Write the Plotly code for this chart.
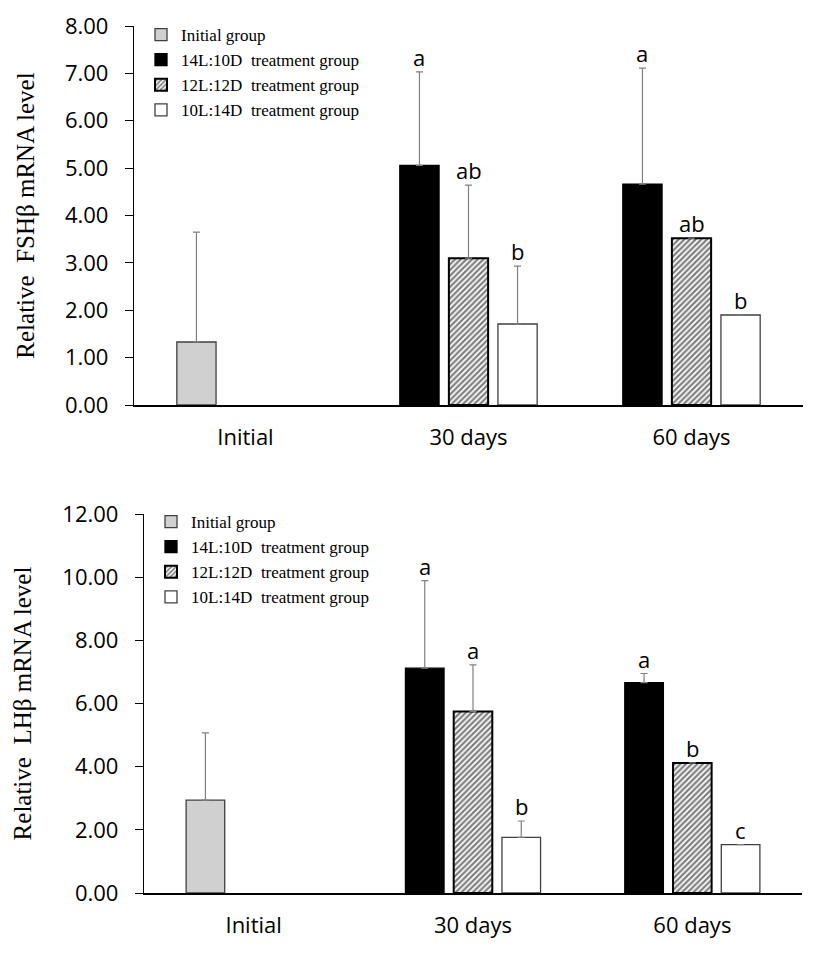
import plotly.graph_objects as go

# ---------------- data ----------------
categories = ["Initial", "30 days", "60 days"]
series_names = ["Initial group", "14L:10D\u00a0 treatment group",
                "12L:12D\u00a0 treatment group", "10L:14D\u00a0 treatment group"]

# FSHβ (top panel)
fsh_initial = [1.33, None, None]
fsh_14L = [None, 5.06, 4.66]
fsh_12L = [None, 3.10, 3.52]
fsh_10L = [None, 1.71, 1.90]
fsh_initial_err = [2.32, None, None]
fsh_14L_err = [None, 1.97, 2.45]
fsh_12L_err = [None, 1.54, None]
fsh_10L_err = [None, 1.22, None]
fsh_14L_letters = [None, "a", "a"]
fsh_12L_letters = [None, "ab", "ab"]
fsh_10L_letters = [None, "b", "b"]

# LHβ (bottom panel)
lh_initial = [2.94, None, None]
lh_14L = [None, 7.12, 6.66]
lh_12L = [None, 5.75, 4.12]
lh_10L = [None, 1.76, 1.53]
lh_initial_err = [2.13, None, None]
lh_14L_err = [None, 2.77, 0.29]
lh_12L_err = [None, 1.47, None]
lh_10L_err = [None, 0.52, None]
lh_14L_letters = [None, "a", "a"]
lh_12L_letters = [None, "a", "b"]
lh_10L_letters = [None, "b", "c"]

fsh_ticks = [0, 1, 2, 3, 4, 5, 6, 7, 8]
lh_ticks = [0, 2, 4, 6, 8, 10, 12]

# ---------------- styles ----------------
W, H = 827, 976
BARGAP = 0.34
BARGROUPGAP = 0.2
SANS = "Open Sans"
SERIF = "Liberation Serif"

styles = [
    dict(color="#d0d0d0", line=dict(color="#404040", width=1.3)),
    dict(color="black", line=dict(color="black", width=1.3)),
    dict(color="white", line=dict(color="black", width=2),
         pattern=dict(shape="/", fgcolor="black", bgcolor="white", size=4, solidity=0.55)),
    dict(color="white", line=dict(color="#404040", width=1.3)),
]
offsetgroups = ["g1", "g1", "g2", "g3"]
slot = (1 - BARGAP) / 3
slot_offsets = {"g1": -slot, "g2": 0.0, "g3": slot}

fig = go.Figure()


def add_panel(values, errs, letters, xa, ya, legend_name):
    annos = []
    for k in range(4):
        fig.add_trace(go.Bar(
            x=categories, y=values[k], name=series_names[k],
            marker=styles[k], offsetgroup=offsetgroups[k],
            xaxis=xa, yaxis=ya, legend=legend_name,
            error_y=dict(type="data", symmetric=False, array=errs[k],
                         arrayminus=[0 if e is not None else None for e in errs[k]],
                         color="#808080", thickness=1.2, width=3.5),
        ))
        if letters[k] is None:
            continue
        for i, lab in enumerate(letters[k]):
            if lab is None:
                continue
            top = values[k][i] + (errs[k][i] or 0)
            annos.append(dict(
                x=i + slot_offsets[offsetgroups[k]], y=top,
                xref=xa, yref=ya, text=lab, showarrow=False,
                yanchor="bottom", yshift=-2,
                font=dict(family=SANS, size=22, color="black"),
            ))
    return annos


annos = []
annos += add_panel([fsh_initial, fsh_14L, fsh_12L, fsh_10L],
                   [fsh_initial_err, fsh_14L_err, fsh_12L_err, fsh_10L_err],
                   [None, fsh_14L_letters, fsh_12L_letters, fsh_10L_letters],
                   "x", "y", "legend")
annos += add_panel([lh_initial, lh_14L, lh_12L, lh_10L],
                   [lh_initial_err, lh_14L_err, lh_12L_err, lh_10L_err],
                   [None, lh_14L_letters, lh_12L_letters, lh_10L_letters],
                   "x2", "y2", "legend2")

xcommon = dict(type="category", range=[-0.5, 2.5], showline=True, linecolor="black",
               linewidth=1.6, ticks="", showgrid=False, zeroline=False, automargin=False,
               tickfont=dict(family=SANS, size=22, color="black"),
               ticklabelstandoff=12)
ycommon = dict(showline=True, linecolor="black", linewidth=1.3, ticks="outside",
               ticklen=8, tickcolor="black", tickwidth=1.3, showgrid=False,
               zeroline=False, tickformat=".2f", automargin=False,
               tickfont=dict(family=SANS, size=22, color="black"),
               ticklabelstandoff=12)

legend_common = dict(xanchor="left", yanchor="top", bgcolor="rgba(0,0,0,0)",
                     tracegroupgap=0, traceorder="normal",
                     font=dict(family=SERIF, size=17, color="black"))

fig.update_layout(
    width=W, height=H,
    margin=dict(l=0, r=0, t=0, b=0, autoexpand=False),
    paper_bgcolor="white", plot_bgcolor="white",
    barmode="group", bargap=BARGAP, bargroupgap=BARGROUPGAP,
    xaxis=dict(domain=[134 / W, 803 / W], anchor="y", **xcommon),
    yaxis=dict(domain=[1 - 405 / H, 1 - 26 / H], anchor="x", range=[0, 8],
               tickvals=fsh_ticks,
               title=dict(text="Relative\u00a0 FSHβ mRNA level", standoff=23,
                          font=dict(family=SERIF, size=25, color="black")),
               **ycommon),
    xaxis2=dict(domain=[144 / W, 802 / W], anchor="y2", **xcommon),
    yaxis2=dict(domain=[1 - 893 / H, 1 - 514 / H], anchor="x2", range=[0, 12],
                tickvals=lh_ticks,
                title=dict(text="Relative\u00a0 LHβ mRNA level", standoff=23,
                           font=dict(family=SERIF, size=25, color="black")),
                **ycommon),
    legend=dict(x=141 / W, y=1 - 17 / H, **legend_common),
    legend2=dict(x=151 / W, y=1 - 504 / H, **legend_common),
    annotations=annos,
    showlegend=True,
)

fig.write_html("out.html")
